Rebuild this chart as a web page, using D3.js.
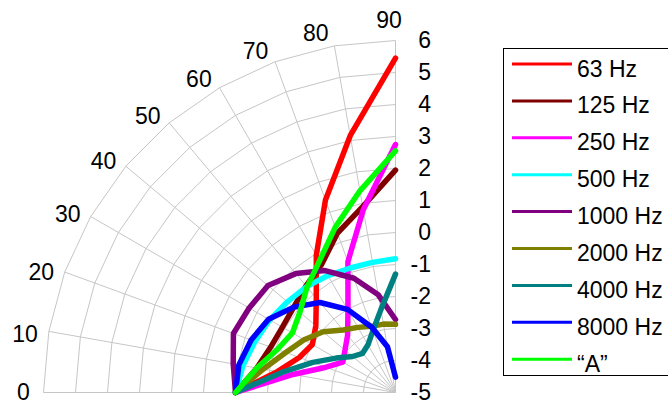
<!DOCTYPE html>
<html><head><meta charset="utf-8">
<script src="https://cdn.jsdelivr.net/npm/d3@7"></script>
<style>body{margin:0;background:#fff}svg{display:block}</style>
</head><body><svg id="c" width="668" height="403"></svg>
<script>
// ---- data ----
const angles = [0, 10, 20, 30, 40, 50, 60, 70, 80, 90];
const angleTickLabels = ["0","10","20","30","40","50","60","70","80","90"];
const radialTicks = [-5, -4, -3, -2, -1, 0, 1, 2, 3, 4, 5, 6];
const seriesNames = ["63 Hz", "125 Hz", "250 Hz", "500 Hz", "1000 Hz", "2000 Hz", "4000 Hz", "8000 Hz", "\u201cA\u201d"];
const s63   = [0, -1.25, -1.8, -2.0, -1.75, -1.15, -0.05, 1.4, 3.15, 5.45];
const s125  = [0, -0.6, -0.85, -0.92, -0.85, -0.65, -0.38, 0.3, 0.9, 1.95];
const s250  = [0, -1.75, -2.69, -3.1, -2.94, -2.67, -2.03, -0.65, 0.8, 2.75];
const s500  = [0, -0.16, -0.33, -0.46, -0.59, -0.68, -0.78, -0.86, -0.87, -0.82];
const s1000 = [0, 0.15, 0.39, 0.28, 0.2, -0.15, -0.6, -1.2, -1.9, -2.72];
const s2000 = [0, -0.8, -1.35, -1.7, -2.05, -2.45, -2.65, -2.8, -2.83, -2.87];
const s4000 = [0, -1.39, -2.25, -2.85, -3.25, -3.4, -3.28, -2.94, -2.37, -1.3];
const s8000 = [0, -0.03, -0.2, -0.42, -0.85, -1.33, -2.0, -2.83, -3.55, -4.52];
const sA    = [0, -0.6, -1.07, -1.28, -1.1, -0.7, -0.25, 0.5, 1.4, 2.55];
const seriesValues = [s63, s125, s250, s500, s1000, s2000, s4000, s8000, sA];
const seriesColors = ["#FF0000", "#800000", "#FF00FF", "#00FFFF", "#800080", "#808000", "#008080", "#0000FF", "#00FF00"];

// ---- layout ----
const cx = 395.5, cy = 392.5, R = 352;
const font = "'Liberation Sans', Arial, sans-serif";
const fs = 23;
const svg = d3.select("#c");
const g = svg.append("g").attr("transform", `translate(${cx},${cy})`);

const rScale = d3.scaleLinear().domain([-5, 6]).range([0, R]);
const aScale = d3.scaleLinear().domain([0, 90]).range([-Math.PI / 2, 0]);

// grid polygons
const gridLine = d3.lineRadial().angle(d => aScale(d.a)).radius(d => rScale(d.v));
g.selectAll("path.grid").data(radialTicks.slice(1)).enter().append("path")
  .attr("class", "grid")
  .attr("d", t => gridLine(angles.map(a => ({a, v: t}))))
  .attr("fill", "none").attr("stroke", "#c6c6c6").attr("stroke-width", 1);
// spokes
g.selectAll("line.spoke").data(angles).enter().append("line")
  .attr("x1", 0).attr("y1", 0)
  .attr("x2", a => rScale(6) * Math.sin(aScale(a)))
  .attr("y2", a => -rScale(6) * Math.cos(aScale(a)))
  .attr("stroke", "#c6c6c6").attr("stroke-width", 1);

// series lines
const line = d3.lineRadial().angle((d, i) => aScale(angles[i])).radius(d => rScale(d));
g.selectAll("path.series").data(seriesValues).enter().append("path")
  .attr("class", "series")
  .attr("d", d => line(d))
  .attr("fill", "none")
  .attr("stroke", (d, i) => seriesColors[i])
  .attr("stroke-width", 5.5)
  .attr("stroke-linejoin", "round")
  .attr("stroke-linecap", "round");

// radial tick labels
svg.selectAll("text.rt").data(radialTicks).enter().append("text")
  .attr("x", cx + 35.5)
  .attr("y", t => cy - rScale(t) + 7.5)
  .attr("text-anchor", "end")
  .attr("font-family", font).attr("font-size", fs).attr("fill", "#000")
  .text(t => String(t));

// angle tick labels
svg.selectAll("text.at").data(angles).enter().append("text")
  .attr("transform", (a, i) => {
    const inner = a > 0 && a < 90;
    const lr = inner ? 376 - 0.1 * a : 372;
    const la = (a - (inner ? 0.9 + 0.02 * a : (a === 90 ? 1 : 0))) * Math.PI / 180;
    const x = cx - lr * Math.cos(la), y = cy - lr * Math.sin(la);
    return `translate(${x},${y + 7.5})`;
  })
  .attr("text-anchor", "middle")
  .attr("font-family", font).attr("font-size", fs).attr("fill", "#000")
  .text((a, i) => angleTickLabels[i]);

// legend
const legX = 503.5, legY = 48.5, legStep = 36.9;
svg.append("rect").attr("x", legX).attr("y", legY).attr("width", 200).attr("height", 327)
  .attr("fill", "#fff").attr("stroke", "#000").attr("stroke-width", 1);
const leg = svg.selectAll("g.leg").data(seriesNames).enter().append("g")
  .attr("transform", (d, i) => `translate(0,${64 + i * legStep})`);
leg.append("line").attr("x1", 512).attr("x2", 572).attr("y1", 0).attr("y2", 0)
  .attr("stroke", (d, i) => seriesColors[i]).attr("stroke-width", 3);
leg.append("text").attr("x", 577).attr("y", 12.5)
  .attr("font-family", font).attr("font-size", fs).attr("fill", "#000")
  .text(d => d);
</script></body></html>
